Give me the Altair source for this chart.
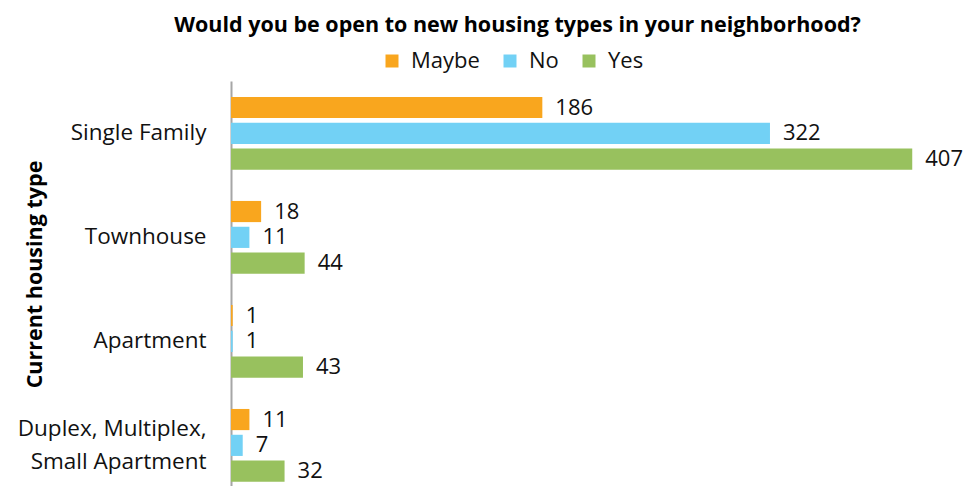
import altair as alt
import pandas as pd

categories = ["Single Family", "Townhouse", "Apartment", "Duplex, Multiplex,|Small Apartment"]
series = ["Maybe", "No", "Yes"]
maybe = [186, 18, 1, 11]
no = [322, 11, 1, 7]
yes = [407, 44, 43, 32]
colors = ["#F9A61E", "#72D1F5", "#98C15E"]

rows = []
for i, c in enumerate(categories):
    for s, vals in zip(series, [maybe, no, yes]):
        rows.append({"cat": c, "series": s, "value": vals[i]})
df = pd.DataFrame(rows)

FONT = "Open Sans"

y = alt.Y("cat:N", sort=categories,
          scale=alt.Scale(paddingInner=0.3, paddingOuter=0.097, align=0.79),
          axis=alt.Axis(title="Current housing type", titleFontSize=21.5, titleFontWeight="bold",
                        titleFont=FONT, titleColor="black", titleX=-196, titleY=193,
                        titleAngle=270, titleAlign="center", titleBaseline="middle",
                        labelFont=FONT, labelFontSize=22.5, labelColor="#111", labelPadding=25,
                        labelLimit=260,
                        labelExpr="split(datum.label, '|')", labelLineHeight=33,
                        labelOffset={"condition": {"test": "indexof(datum.value, '|') >= 0", "value": -16},
                                     "value": 0},
                        ticks=False, domainColor="#A6A6A6", domainWidth=2))
x = alt.X("value:Q", scale=alt.Scale(domain=[0, 420], nice=False), axis=None)
yoff = alt.YOffset("series:N", sort=series, scale=alt.Scale(paddingInner=0.18, paddingOuter=0.0))

bars = alt.Chart(df).mark_bar().encode(
    y=y, x=x, yOffset=yoff,
    color=alt.Color("series:N", sort=series,
                    scale=alt.Scale(domain=series, range=colors),
                    legend=alt.Legend(title=None, orient="none", direction="horizontal",
                                      legendX=150, legendY=-31,
                                      labelFont=FONT, labelFontSize=22, labelColor="#111",
                                      labelOffset=8,
                                      symbolType="square", symbolSize=169, symbolStrokeWidth=0,
                                      columnPadding=19)))

labels = alt.Chart(df).mark_text(align="left", baseline="middle", dx=13, fontSize=22,
                                 font=FONT, color="#111").encode(
    y=y, x=x, yOffset=yoff, text="value:Q")

chart = (bars + labels).properties(
    width=703, height=405,
    autosize=alt.AutoSizeParams(type="none"),
    padding={"left": 223, "top": 73, "right": 33, "bottom": 0},
    title=alt.Title("Would you be open to new housing types in your neighborhood?",
                    fontSize=21.5, font=FONT, fontWeight="bold", color="black",
                    anchor="middle", dx=-65, offset=14),
).configure_view(stroke=None)

chart.save("out.html", embed_options={"renderer": "svg", "actions": False})
